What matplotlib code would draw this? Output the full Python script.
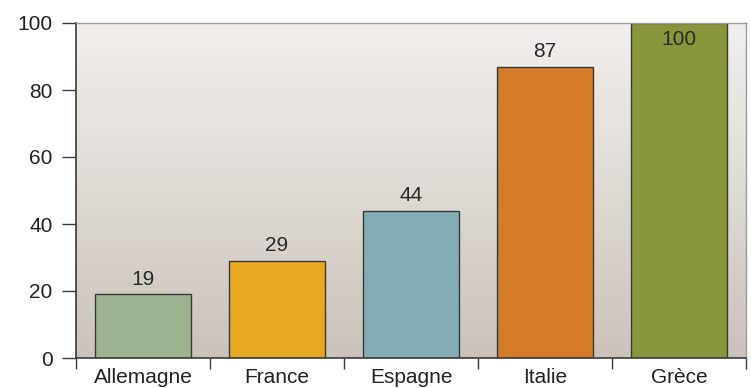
import numpy as np
import matplotlib.pyplot as plt
from matplotlib.colors import LinearSegmentedColormap

plt.rcParams['font.family'] = ['Liberation Sans', 'DejaVu Sans']

countries = ['Allemagne', 'France', 'Espagne', 'Italie', 'Grèce']
values = [19, 29, 44, 87, 100]
colors = ['#9db38f', '#e8a922', '#83adb4', '#d47b27', '#89953a']

fig = plt.figure(figsize=(7.51, 3.88), dpi=100)
ax = fig.add_axes([76 / 751, 30 / 388, 670 / 751, 335 / 388])

x = np.arange(len(countries))

# vertical gradient behind the bars
grad = LinearSegmentedColormap.from_list('bg', ['#cbc3bb', '#f2f0ed'])
ax.imshow(np.linspace(0, 1, 256).reshape(-1, 1), cmap=grad, origin='lower',
          aspect='auto', extent=(-0.5, 4.5, 0, 100), zorder=0)

ax.bar(x, values, width=0.72, color=colors, edgecolor='#3a3a34',
       linewidth=1.0, zorder=2)

for xi, v in zip(x, values):
    if v >= 100:
        ax.annotate(str(v), (xi, v), xytext=(0, -5), textcoords='offset points',
                    ha='center', va='top', fontsize=15, color='#2a2a2a', zorder=3)
    else:
        ax.annotate(str(v), (xi, v), xytext=(0, 4), textcoords='offset points',
                    ha='center', va='bottom', fontsize=15, color='#2a2a2a', zorder=3)

ax.set_xlim(-0.5, 4.5)
ax.set_ylim(0, 100)

ax.set_yticks([0, 20, 40, 60, 80, 100])
ax.tick_params(axis='y', length=10, width=1, color='#3a3a3a', pad=7,
               labelsize=15, labelcolor='#222222')

ax.set_xticks(x)
ax.set_xticklabels(countries)
ax.tick_params(axis='x', which='major', length=0, pad=7,
               labelsize=15, labelcolor='#222222')
ax.set_xticks(np.arange(-0.5, 5, 1), minor=True)
ax.tick_params(axis='x', which='minor', length=8, width=1, color='#3a3a3a')

for side in ['left', 'bottom']:
    ax.spines[side].set_color('#3a3a3a')
    ax.spines[side].set_linewidth(1.2)
for side in ['top', 'right']:
    ax.spines[side].set_color('#9a9a9a')
    ax.spines[side].set_linewidth(1.0)

fig.savefig('out.png', dpi=100)
